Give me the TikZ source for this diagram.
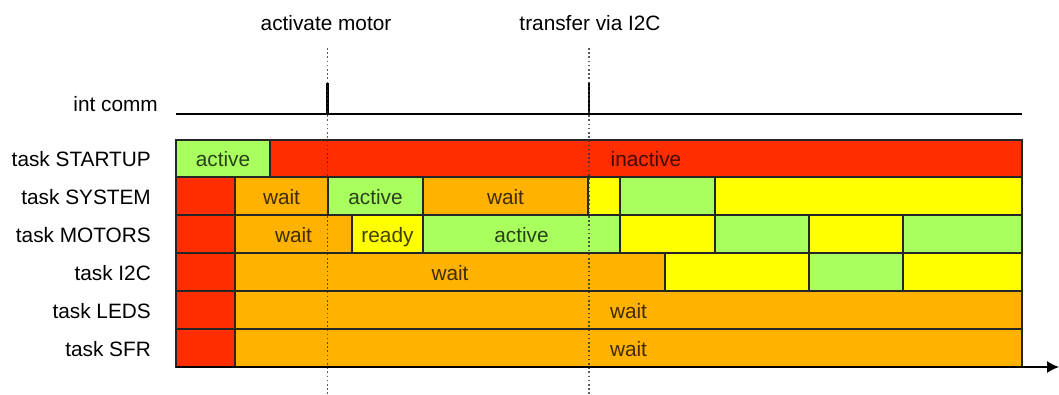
\documentclass[tikz,border=0pt]{standalone}
\usepackage{fontspec}
\setmainfont{Liberation Sans}
\usetikzlibrary{arrows.meta}

\definecolor{stRed}{RGB}{255,45,0}
\definecolor{stOrange}{RGB}{255,178,0}
\definecolor{stYellow}{RGB}{255,255,0}
\definecolor{stGreen}{RGB}{168,255,94}

% one state segment of a task row: x1, x2, top, bottom, colour, text, name
\newcommand{\stateseg}[7]{%
  \draw[segline, fill=#5] (#1,#3) rectangle (#2,#4)
    node[midway, celltext] (#7) {#6};}

\begin{document}
\begin{tikzpicture}[x=1pt, y=-1pt,
  every node/.style={font=\fontsize{20.8}{24}\selectfont, inner sep=0pt,
    text height=16pt, text depth=0pt},
  segline/.style={draw=black!85, line width=1.2pt},
  celltext/.style={text opacity=0.75},
  rowlabel/.style={anchor=east},
  eventlabel/.style={anchor=center},
  marker/.style={draw=black!80, line width=1.3pt, dash pattern=on 1.6pt off 2.6pt, opacity=0.8},
  signal/.style={line width=2.2pt, line cap=butt},
  timeaxis/.style={line width=1.4pt, -{Latex[length=12pt, width=12pt]}}
]
\useasboundingbox (0,0) rectangle (1059,394);

% task STARTUP
\stateseg{176}{270}{140}{177}{stGreen}{active}{su1}
\stateseg{270}{1022}{140}{177}{stRed}{inactive}{su2}

% task SYSTEM
\stateseg{176}{235}{177}{215}{stRed}{}{sy0}
\stateseg{235}{328}{177}{215}{stOrange}{wait}{sy1}
\stateseg{328}{423}{177}{215}{stGreen}{active}{sy2}
\stateseg{423}{588}{177}{215}{stOrange}{wait}{sy3}
\stateseg{588}{620}{177}{215}{stYellow}{}{sy4}
\stateseg{620}{715}{177}{215}{stGreen}{}{sy5}
\stateseg{715}{1022}{177}{215}{stYellow}{}{sy6}

% task MOTORS
\stateseg{176}{235}{215}{253}{stRed}{}{mo0}
\stateseg{235}{352}{215}{253}{stOrange}{wait}{mo1}
\stateseg{352}{423}{215}{253}{stYellow}{ready}{mo2}
\stateseg{423}{620}{215}{253}{stGreen}{active}{mo3}
\stateseg{620}{715}{215}{253}{stYellow}{}{mo4}
\stateseg{715}{809}{215}{253}{stGreen}{}{mo5}
\stateseg{809}{903}{215}{253}{stYellow}{}{mo6}
\stateseg{903}{1022}{215}{253}{stGreen}{}{mo7}

% task I2C
\stateseg{176}{235}{253}{291}{stRed}{}{ic0}
\stateseg{235}{665}{253}{291}{stOrange}{wait}{ic1}
\stateseg{665}{809}{253}{291}{stYellow}{}{ic2}
\stateseg{809}{903}{253}{291}{stGreen}{}{ic3}
\stateseg{903}{1022}{253}{291}{stYellow}{}{ic4}

% task LEDS
\stateseg{176}{235}{291}{329}{stRed}{}{le0}
\stateseg{235}{1022}{291}{329}{stOrange}{wait}{le1}

% task SFR
\stateseg{176}{235}{329}{367}{stRed}{}{sf0}
\stateseg{235}{1022}{329}{367}{stOrange}{wait}{sf1}

% row labels
\node[rowlabel] (lsu) at (151,158.5) {task STARTUP};
\node[rowlabel] (lsy) at (151,196) {task SYSTEM};
\node[rowlabel] (lmo) at (151,234) {task MOTORS};
\node[rowlabel] (lic) at (151,272) {task I2C};
\node[rowlabel] (lle) at (151,310) {task LEDS};
\node[rowlabel] (lsf) at (151,348) {task SFR};
\node[rowlabel] (lint) at (158,103) {int comm};

% interrupt signal line with its two pulses
\coordinate (sigL) at (176,114);
\coordinate (sigR) at (1022,114);
\coordinate (pA) at (327.5,115);
\coordinate (pAtop) at (327.5,83);
\coordinate (pB) at (589,115);
\coordinate (pBtop) at (589,83);
\draw[signal] (sigL) -- (sigR);
\draw[signal] (pA) -- (pAtop);
\draw[signal] (pB) -- (pBtop);

% event markers
\node[eventlabel] (evA) at (326,22) {activate motor};
\node[eventlabel] (evB) at (590,22) {transfer via I2C};
\coordinate (mAtop) at (327.5,48);
\coordinate (mAbot) at (327.5,394);
\coordinate (mBtop) at (589,48);
\coordinate (mBbot) at (589,394);
\draw[marker] (mAtop) -- (mAbot);
\draw[marker] (mBtop) -- (mBbot);

% time axis
\coordinate (t0) at (176,367);
\coordinate (t1) at (1059,367);
\draw[timeaxis] (t0) -- (t1);
\end{tikzpicture}
\end{document}
